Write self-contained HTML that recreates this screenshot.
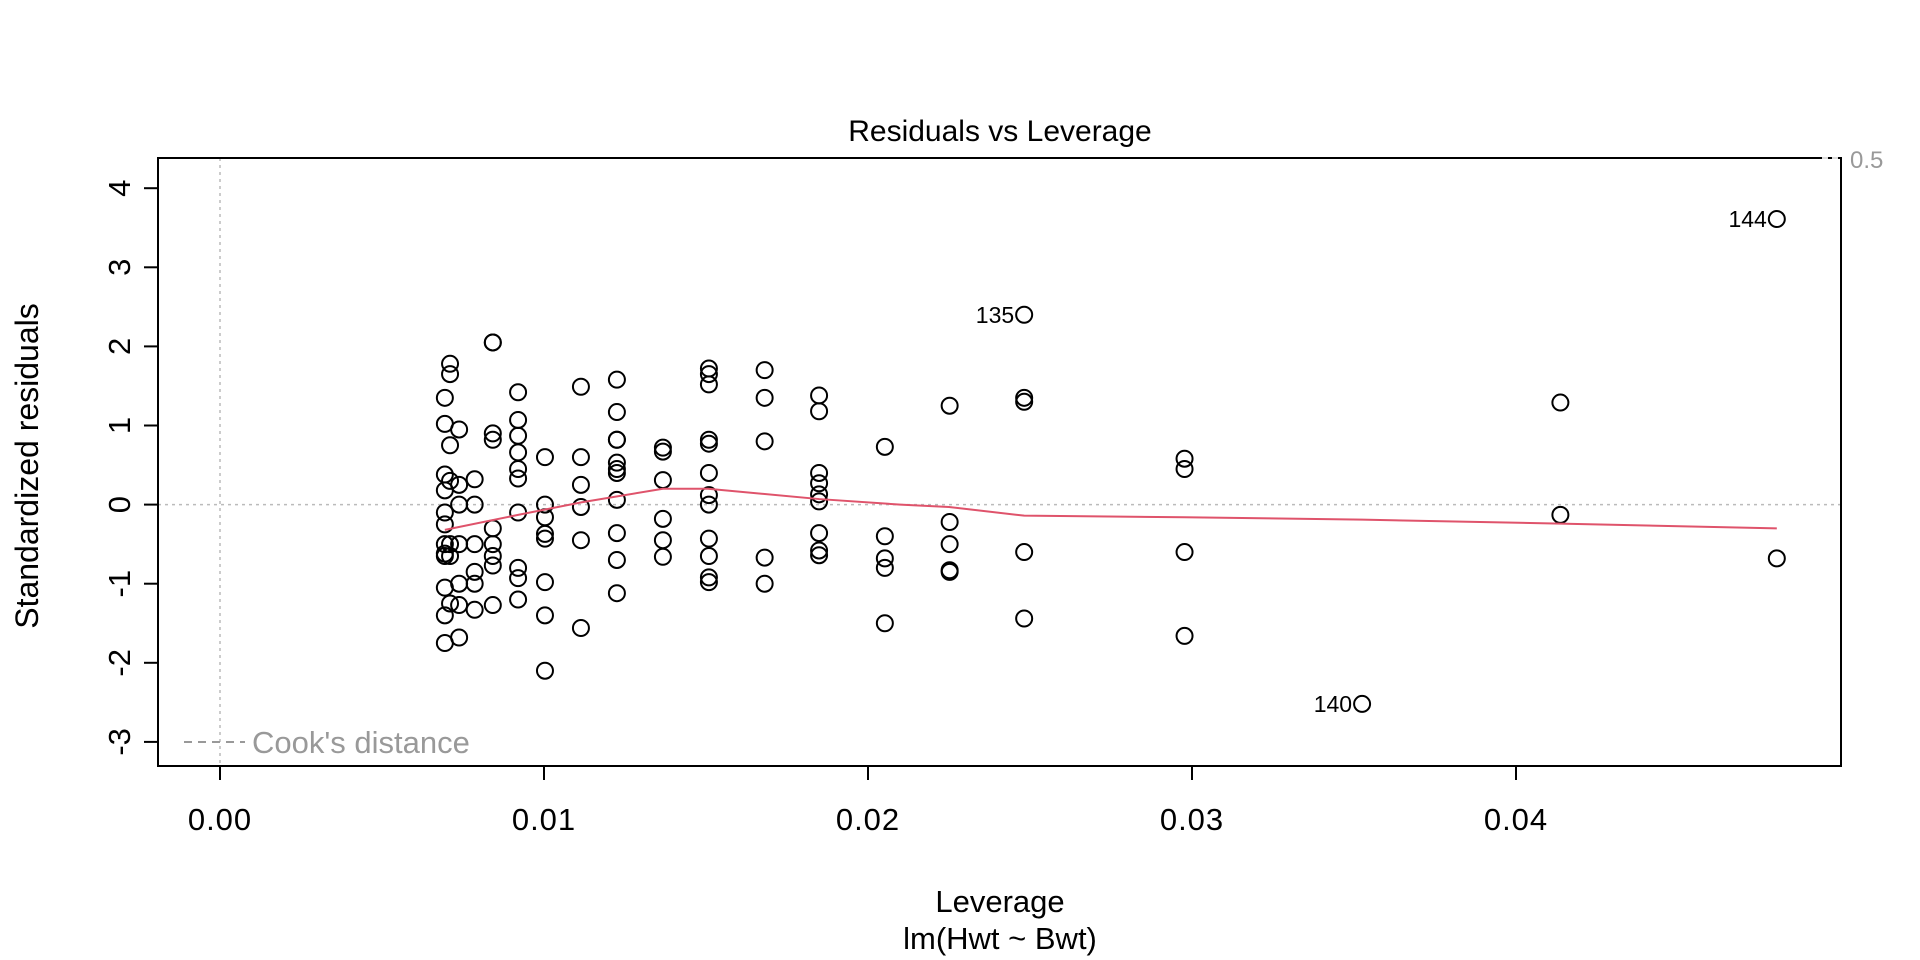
<!DOCTYPE html>
<html><head><meta charset="utf-8"><style>
html,body{margin:0;padding:0;background:#fff;}
svg{display:block;font-family:"Liberation Sans",Arial,sans-serif;}
</style></head><body>
<svg id="chart" width="1920" height="960" viewBox="0 0 1920 960" xmlns="http://www.w3.org/2000/svg">
<rect x="0" y="0" width="1920" height="960" fill="#fff"/>
<text x="1000" y="141" font-size="30" text-anchor="middle">Residuals vs Leverage</text>
<text x="1000" y="912" font-size="31" text-anchor="middle">Leverage</text>
<text x="1000" y="949" font-size="31" text-anchor="middle">lm(Hwt ~ Bwt)</text>
<text transform="translate(38,466) rotate(-90)" font-size="32" text-anchor="middle">Standardized residuals</text>
<g id="grid"></g>
<g id="axes"></g>
<g id="marks"></g>
<rect x="158" y="158" width="1683" height="608" fill="none" stroke="#000" stroke-width="2"/>
<g>
<line x1="184" y1="742" x2="245" y2="742" stroke="#999" stroke-width="2" stroke-dasharray="8,6"/>
<text x="252" y="753" font-size="31" fill="#999">Cook's distance</text>
</g>
<line x1="1822" y1="158" x2="1838" y2="158" stroke="#ddd" stroke-width="2" stroke-dasharray="6,4"/>
<text x="1850" y="168" font-size="24" fill="#999">0.5</text>
</svg>
<script>
const leverage = [0.00694,0.0071,0.00738,0.00786,0.00842,0.0092,0.01003,0.01114,0.01225,0.01367,0.01509,0.01681,0.01849,0.02052,0.02252,0.02482,0.02977,0.03525,0.04137,0.04805];
const residualGroups = [
 [1.35,1.02,0.38,0.18,-0.1,-0.25,-0.5,-0.65,-0.62,-1.05,-1.4,-1.75],
 [1.78,1.65,0.75,0.3,-0.5,-0.65,-1.25],
 [0.95,0.25,0,-0.5,-1.0,-1.27,-1.68],
 [0.32,0,-0.5,-0.85,-1.0,-1.33],
 [2.05,2.05,0.9,0.82,-0.3,-0.5,-0.65,-0.77,-1.27],
 [1.42,1.07,0.87,0.66,0.45,0.33,-0.1,-0.8,-0.93,-1.2],
 [0.6,0,-0.16,-0.37,-0.43,-0.98,-1.4,-2.1],
 [1.49,0.6,0.25,-0.03,-0.45,-1.56],
 [1.58,1.17,0.82,0.82,0.53,0.45,0.4,0.06,-0.36,-0.7,-1.12],
 [0.72,0.67,0.31,-0.18,-0.45,-0.66],
 [1.72,1.65,1.52,0.82,0.77,0.4,0.12,0,-0.43,-0.65,-0.92,-0.98],
 [1.7,1.35,0.8,-0.67,-1.0],
 [1.38,1.18,0.4,0.27,0.13,0.04,-0.36,-0.58,-0.64],
 [0.73,-0.4,-0.68,-0.8,-1.5],
 [1.25,-0.22,-0.5,-0.83,-0.85],
 [2.4,1.35,1.3,-0.6,-1.44],
 [0.58,0.45,-0.6,-1.66],
 [-2.52],
 [1.29,-0.13],
 [3.61,-0.68]
];
const smoothX = [0.00694,0.0092,0.01117,0.01367,0.01506,0.01849,0.0210,0.0225,0.02482,0.02977,0.03525,0.04137,0.04805];
const smoothY = [-0.32,-0.13,0.03,0.2,0.2,0.07,0.0,-0.03,-0.14,-0.16,-0.19,-0.24,-0.30];
const labelIds = ["135","140","144"];
const labelLev = [0.02482,0.03525,0.04805];
const labelRes = [2.4,-2.52,3.61];
const xTicks = [0,0.01,0.02,0.03,0.04];
const xTickLabels = ["0.00","0.01","0.02","0.03","0.04"];
const yTicks = [-3,-2,-1,0,1,2,3,4];

const NS = "http://www.w3.org/2000/svg";
function sx(v){return 220 + v*32400;}
function sy(v){return 504.6 - v*79.1;}
function mk(tag, attrs, parent){const e=document.createElementNS(NS,tag);for(const k in attrs)e.setAttribute(k,attrs[k]);parent.appendChild(e);return e;}
const grid=document.getElementById('grid'), axes=document.getElementById('axes'), marks=document.getElementById('marks');

let gl=mk('line',{x1:sx(0),x2:sx(0),y1:158,y2:766,stroke:'#bbb','stroke-width':1.5,'stroke-dasharray':'3,4'},grid);


let hl=mk('line',{x1:158,x2:1841,y1:sy(0),y2:sy(0),stroke:'#bbb','stroke-width':1.5,'stroke-dasharray':'3,4'},grid);



xTicks.forEach((t,i)=>{
 const g=mk('g',{},axes);
 
 
 mk('line',{x1:sx(t),x2:sx(t),y1:766,y2:780,stroke:'#000','stroke-width':2},g);
 const tx=mk('text',{x:sx(t),y:830,'font-size':31,'text-anchor':'middle','letter-spacing':'1'},g);
 tx.textContent=xTickLabels[i];
});
yTicks.forEach(t=>{
 const g=mk('g',{},axes);
 
 
 mk('line',{x1:144,x2:158,y1:sy(t),y2:sy(t),stroke:'#000','stroke-width':2},g);
 const tx=mk('text',{transform:`translate(130,${sy(t)}) rotate(-90)`,'font-size':31,'text-anchor':'middle'},g);
 tx.textContent=String(t);
});

leverage.forEach((lv,i)=>{
 residualGroups[i].forEach(r=>{
  const c=mk('circle',{cx:sx(lv),cy:sy(r),r:8,fill:'none',stroke:'#000','stroke-width':2},marks);
  
  
 });
});

const pts=smoothX.map((x,i)=>sx(x)+','+sy(smoothY[i])).join(' ');
const pl=mk('polyline',{points:pts,fill:'none',stroke:'#DF536B','stroke-width':2},marks);



labelIds.forEach((id,i)=>{
 const t=mk('text',{x:sx(labelLev[i])-10,y:sy(labelRes[i])+8,'font-size':23,'text-anchor':'end'},marks);
 
 
 t.textContent=id;
});
</script>
</body></html>
